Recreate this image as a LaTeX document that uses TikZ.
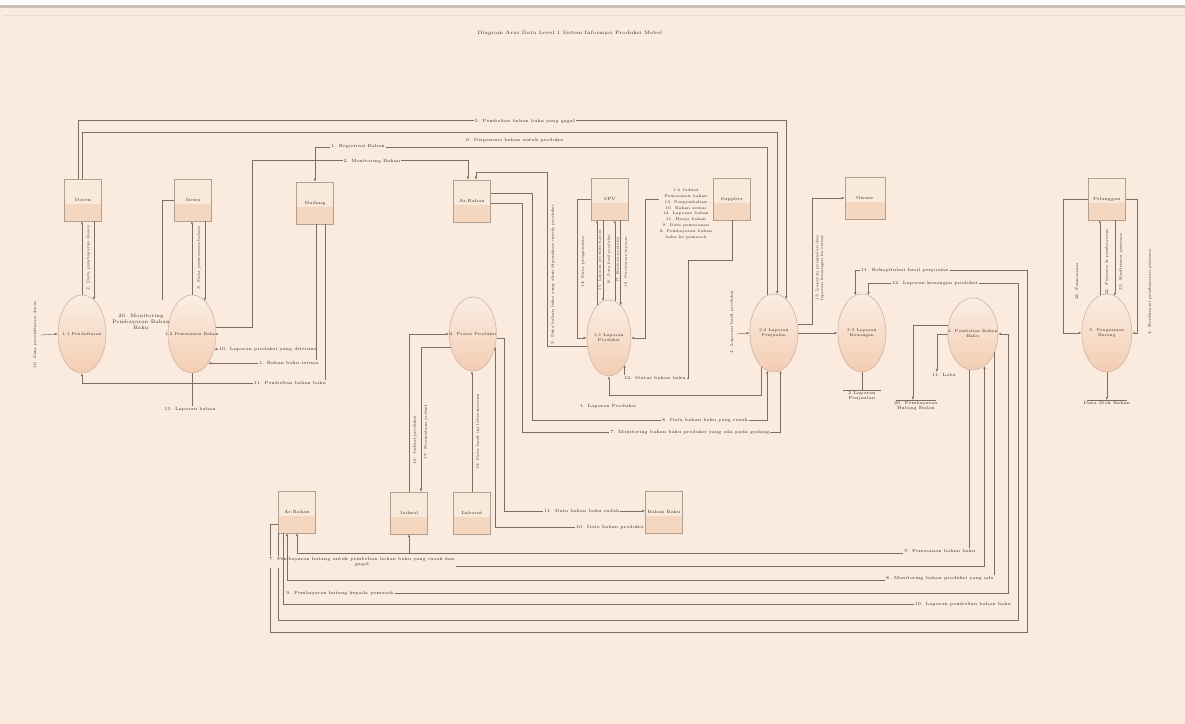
\documentclass[tikz,border=0pt]{standalone}
\usepackage{fontspec}
\usetikzlibrary{arrows.meta,shapes.geometric,calc}
\definecolor{bg}{RGB}{250,235,222}
\definecolor{band}{RGB}{205,190,178}
\definecolor{lc}{RGB}{125,110,100}
\definecolor{txt}{RGB}{60,50,45}
\definecolor{bc}{RGB}{175,160,150}
\definecolor{boxtop}{RGB}{249,233,219}
\definecolor{boxlow}{RGB}{245,214,190}
\definecolor{ec}{RGB}{205,180,165}
\definecolor{elt}{RGB}{250,238,228}
\definecolor{elb}{RGB}{244,205,178}
\tikzset{
  ln/.style={draw=lc, line width=0.5pt},
  arr/.style={ln, -{Latex[length=3pt,width=2.4pt]}},
  ent/.style={draw=bc, line width=0.5pt, fill=boxtop, minimum width=37pt, minimum height=42pt,
    inner sep=0pt, text=txt, font=\fontsize{4.5}{5}\selectfont,
    path picture={\fill[boxlow] ([yshift=-4pt]path picture bounding box.west) rectangle (path picture bounding box.south east);}},
  proc/.style={ellipse, draw=ec, line width=0.6pt, top color=elt, bottom color=elb,
    minimum width=48pt, minimum height=78pt, inner sep=0pt},
  ptext/.style={inner sep=0pt, align=center, text=txt, font=\fontsize{4.1}{5.2}\selectfont},
  lbl/.style={fill=bg, inner sep=1pt, text=txt, font=\fontsize{4.5}{5.5}\selectfont, align=center},
  txtn/.style={inner sep=1pt, text=txt, font=\fontsize{4.5}{5.5}\selectfont, align=center},
  rlbl/.style={rotate=90, inner sep=0.5pt, text=txt, font=\fontsize{4}{4.8}\selectfont, align=center},
  rsm/.style={rlbl, font=\fontsize{3.5}{4}\selectfont},
}
\begin{document}
\begin{tikzpicture}[x=1pt,y=-1pt]
\fill[bg] (0,0) rectangle (1185,724);
\fill[white] (0,0) rectangle (1185,5);
\fill[band] (0,5) rectangle (1185,8);
\draw[bg!88!lc, line width=0.4pt] (3,15) -- (1185,15);
\useasboundingbox (0,0) rectangle (1185,724);

% title
\node[txtn, font=\fontsize{5}{6}\selectfont] (title) at (570,33) {Diagram Arus Data Level 1 Sistem Informasi Produksi Mebel};

% entities / stores
\node[ent] (b1) at (83,200) {Dosen};
\node[ent] (b2) at (193,200) {Siswa};
\node[ent] (b3) at (315,203) {Gudang};
\node[ent] (b4) at (472,201) {Ar.Bahan};
\node[ent] (b5) at (610,199) {SPV};
\node[ent] (b6) at (732,199) {Supplier};
\node[ent, minimum width=40pt] (b7) at (865,198) {Owner};
\node[ent] (b8) at (1107,199) {Pelanggan};
\node[ent] (b9) at (297,512) {Ar.Bahan};
\node[ent] (b10) at (409,513) {Jadwal};
\node[ent] (b11) at (472,513) {Laborat};
\node[ent] (b12) at (664,512) {Bahan Baku};

% processes
\node[proc, label={[ptext]center:1.1 Pendaftaran}] (p1) at (82,334) {};
\node[proc, label={[ptext]center:1.2 Pemesanan Bahan}] (p2) at (192,334) {};
\node[proc, minimum width=47pt, minimum height=74pt, label={[ptext]center:2. Proses Produksi}] (p3) at (473,334) {};
\node[proc, minimum width=44pt, minimum height=76pt, label={[ptext]center:{3.1 Laporan\\Produksi}}] (p4) at (609,338) {};
\node[proc, label={[ptext]center:{3.2 Laporan\\Penjualan}}] (p5) at (774,333) {};
\node[proc, label={[ptext]center:{3.3 Laporan\\Keuangan}}] (p6) at (862,333) {};
\node[proc, minimum width=50pt, minimum height=72pt, label={[ptext]center:{4. Pembelian Bahan\\Baku}}] (p7) at (973,334) {};
\node[proc, minimum width=50pt, label={[ptext]center:{5. Pengiriman\\Barang}}] (p8) at (1107,333) {};

% ---------- left group
\draw[arr] (p1.north) -- (p1.north |- b1.south);
\draw[arr] ([xshift=11pt]b1.south) -- ([xshift=11pt]b1.south |- 0,300);
\node[rlbl] (r1) at (88.5,258) {2. Data pembayaran dosen};
\coordinate (c1) at (41,335);
\draw[arr] (c1) -- (p1.west);
\node[rlbl] (r0) at (35,335) {10. Data pendaftaran dosen};

\draw[arr] (p2.north) -- (p2.north |- b2.south);
\draw[arr] ([xshift=12pt]b2.south) -- ([xshift=12pt]b2.south |- 0,301);
\node[rlbl] (r2) at (199,258) {3. Data pemesanan bahan};
\coordinate (c20) at (162,300);
\draw[ln] (b2.west) -| (c20);
\node[txtn, font=\fontsize{5}{6}\selectfont] (l20) at (141,322) {20. Monitoring\\Pembayaran Bahan\\Baku};

% top long lines
\draw[arr] ([xshift=-5pt]b1.north) |- (p5.70 |- 0,120) -- (p5.70);
\draw[arr] ([xshift=-1pt]b1.north) |- (p5.85 |- 0,132) -- (p5.85);
\draw[arr] (p5.100) -- (p5.100 |- 0,147) -| (b3.north);
\node[lbl] (l5) at (525,121) {5. Pembelian bahan baku yang gagal};
\node[lbl] (l6) at (515,140) {6. Dispensasi bahan untuk produksi};
\node[lbl] (l1r) at (358,146) {1. Registrasi Bahan};

\draw[arr] (p2.15) -| (252,160) -| ([xshift=-4pt]b4.north);
\node[lbl] (l2) at (372,161) {2. Monitoring Bahan};

% b3 bottom
\draw[arr] ([xshift=1pt]b3.south) |- (p2.-61);
\node[lbl] (l1b) at (289,363) {1. Bahan baku terima};
\draw[arr] ([xshift=10pt]b3.south) |- (p1.south |- 0,383) -- (p1.south);
\node[lbl] (l11b) at (290,383) {11. Pembelian bahan baku};
\node[txtn] (l10p) at (268,349) {10. Laporan produksi yang diterima};
\draw[arr] (l10p.west) -- (p2.-35);
\node[txtn] (l13) at (190,409) {13. Laporan bahan};
\draw[ln] (p2.south) -- (p2.south |- l13.north);

% ---------- b4 / p4 / p5
\draw[arr] (p4.200) -| (547,172) -| ([xshift=4pt]b4.north);
\node[rlbl] (r3) at (553,275) {3. Data bahan baku yang akan digunakan untuk produksi};
\draw[arr] ([yshift=8pt]b4.east) -| (532,420) -| (p5.260);
\draw[arr] ([yshift=-2pt]b4.east) -| (522,432) -| (p5.280);
\node[lbl] (l8) at (705,420) {8. Data bahan baku yang rusak};
\node[lbl] (l7) at (690,432) {7. Monitoring bahan baku produksi yang ada pada gudang};
\draw[arr] (p5.250) |- (p4.south |- 0,395) -- (p4.south);
\node[txtn] (l1p) at (608,406) {1. Laporan Produksi};

\draw[arr] (b5.west) -- (577,199) |- (p4.west);
\node[rlbl] (r14) at (583,262) {14. Data pengawasan};
\draw[arr] (p4.110) -- (p4.110 |- b5.south);
\draw[arr] (b5.south -| p4.99) -- (p4.99);
\draw[arr] (p4.81) -- (p4.81 |- b5.south);
\draw[arr] (b5.south -| p4.70) -- (p4.70);
\node[rsm] (r15) at (600,260) {15. Laporan produksi harian};
\node[rsm] (r16) at (609,260) {16. Data hasil produksi};
\node[rsm] (r17) at (618,260) {17. Evaluasi produksi};
\node[rsm] (r18) at (626,262) {18. Persetujuan laporan};
\draw[arr] (b6.west) -- (645,199) |- (p4.east);
\node[lbl, font=\fontsize{4}{5.8}\selectfont] (lblk) at (686,214) {1.4 Jadwal\\Pemesanan bahan\\13. Pengembalian\\10. Bahan sesuai\\12. Laporan bahan\\11. Harga bahan\\9. Data pemesanan\\8. Pembayaran bahan\\baku ke pemasok};
\draw[arr] (b6.south) -- (b6.south |- 0,260) -| (688,378) -| (p4.-60);
\node[lbl] (l12s) at (655,378) {12. Status bahan baku};

\coordinate (c4) at (737,334);
\draw[arr] (c4) -- (p5.west);
\node[rlbl] (r4) at (732,322) {4. Laporan hasil produksi};
\draw[arr] (p5.east) -- (p6.west);
\draw[arr] (p5.20) -| (812,198) -- (b7.west);
\node[rlbl] (r5) at (820,268) {13. Laporan penjualan dan\\laporan keuangan ke owner};

% ---------- p6 loops
\draw[arr] ([yshift=-12pt]b9.west) -| (270,632) -| (1027,270) -| (p6.100);
\draw[arr] (b9.south west) |- (1018,620) |- (p6.80 |- 0,283) -- (p6.80);
\node[lbl] (l11r) at (905,270) {11. Rekapitulasi hasil penjualan};
\node[lbl] (l12k) at (935,283) {12. Laporan keuangan produksi};
\node[txtn] (o6) at (862,396) {2 Laporan\\Penjualan};
\draw[ln] (p6.south) -- (p6.south |- o6.north);
\draw[ln] ([xshift=-19pt]o6.north) -- ([xshift=19pt]o6.north);

% ---------- p7
\node[txtn] (o7) at (916,406) {20. Pembayaran\\Hutang Bulan};
\draw[arr] (p7.160) -| (o7.north -| 913,0);
\draw[ln] ([xshift=-20pt]o7.north) -- ([xshift=20pt]o7.north);
\node[txtn] (o11) at (944,375) {11. Laba};
\draw[arr] (p7.west) -| (o11.north -| 937,0);

\draw[arr] (p7.265) |- (b9.south |- 0,553) -- (b9.south);
\draw[arr] (b10.south |- 0,553) -- (b10.south);
\node[lbl] (l9p) at (940,551) {9. Pemesanan bahan baku};
\node[lbl] (l7p) at (362,562) {7. Pembayaran hutang untuk pembelian bahan baku yang rusak dan\\gagal};
\draw[arr] (l7p.east |- 0,566) -| (p7.290);
\draw[arr] (p7.-40) |- ([xshift=-10pt]b9.south |- 0,580) -- ([xshift=-10pt]b9.south);
\node[lbl] (l8m) at (940,578) {8. Monitoring bahan produksi yang ada};
\node[txtn] (l9h) at (340,593) {9. Pembayaran hutang kepada pemasok};
\draw[arr] (l9h.east) -| (1008,334) -- (p7.east);
\node[lbl] (l10l) at (963,604) {10. Laporan pembelian bahan baku};
\draw[ln] ([xshift=-14pt]b9.south) |- (l10l.west);

% ---------- p3
\draw[arr] (b10.north) |- (p3.west);
\draw[arr] (p3.210) -| ([xshift=12pt]b10.north);
\node[rlbl] (r16j) at (415,440) {16. Jadwal produksi};
\node[rlbl] (r17j) at (426,432) {17. Permintaan jadwal};
\draw[arr] (b11.north) -- (b11.north |- p3.south);
\node[rlbl] (r18l) at (478,432) {18. Data hasil uji laboratorium};
\draw[arr] (p3.-10) -| (504,511) -- (b12.west |- 0,511);
\draw[arr] (b12.west |- 0,527) -| (p3.-30);
\node[lbl] (l11d) at (582,511) {11. Data bahan baku sudah};
\node[lbl] (l10d) at (610,527) {10. Data bahan produksi};

% ---------- p8
\draw[arr] (b8.west) -- (1063,199) |- (p8.west);
\draw[arr] (b8.east) -- (1137,199) |- (p8.east);
\draw[arr] ([xshift=-7pt]b8.south |- 0,295) -- ([xshift=-7pt]b8.south);
\draw[arr] ([xshift=8pt]b8.south) -- ([xshift=8pt]b8.south |- 0,296);
\node[rlbl] (r22a) at (1077,282) {22. Pemesanan};
\node[rlbl] (r22b) at (1107,262) {22. Pesanan \& pembayaran};
\node[rlbl] (r23) at (1121,262) {23. Konfirmasi pesanan};
\node[rlbl] (r4k) at (1150,292) {4. Konfirmasi pembayaran pesanan};
\node[txtn] (o8) at (1107,403) {Data Stok Bahan};
\draw[arr] (p8.south) -- (p8.south |- o8.north);
\draw[ln] ([xshift=-20pt]o8.north) -- ([xshift=20pt]o8.north);
\end{tikzpicture}
\end{document}
